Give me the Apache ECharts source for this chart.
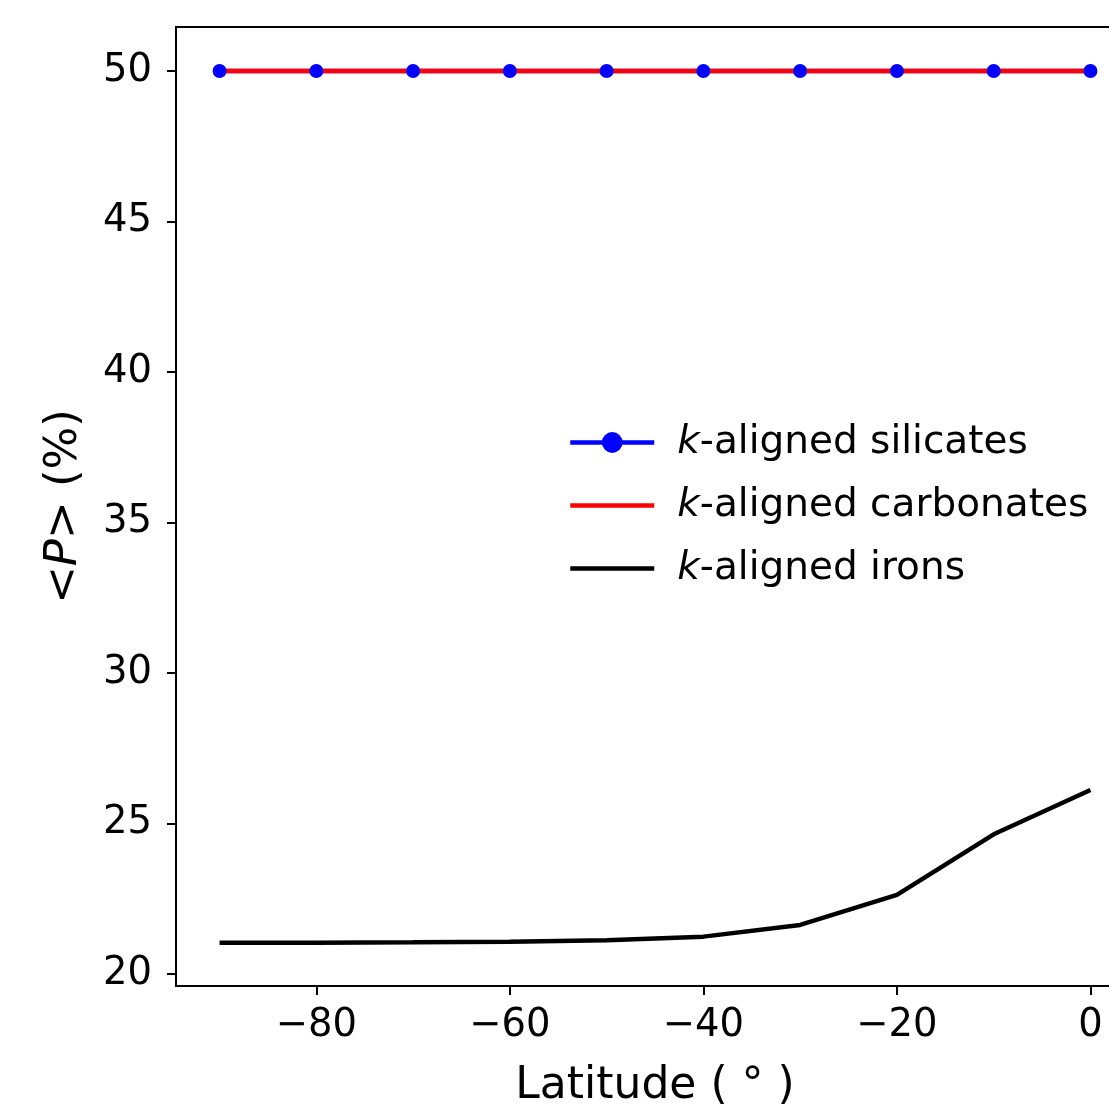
<!DOCTYPE html>
<html>
<head>
<meta charset="utf-8">
<script src="https://cdn.jsdelivr.net/npm/echarts@6/dist/echarts.min.js"></script>
<style>
  html, body { margin: 0; padding: 0; background: #fff; }
  #chart { width: 1109px; height: 1106px; }
</style>
</head>
<body>
<div id="chart"></div>
<script>
// latitude samples (degrees)
var latitude = [-90, -80, -70, -60, -50, -40, -30, -20, -10, 0];
// mean polarisation <P> (%)
var silicates = [50, 50, 50, 50, 50, 50, 50, 50, 50, 50];
var carbonates = [50, 50, 50, 50, 50, 50, 50, 50, 50, 50];
var irons = [21.04, 21.04, 21.05, 21.07, 21.12, 21.24, 21.63, 22.63, 24.64, 26.11];
var xTicks = [-80, -60, -40, -20, 0];
var yTicks = [20, 25, 30, 35, 40, 45, 50];

function pairs(xs, ys) {
    return xs.map(function (x, i) { return [x, ys[i]]; });
}

var font = 'DejaVu Sans';
var hidden = { color: 'rgba(0,0,0,0)', borderColor: 'rgba(0,0,0,0)', borderWidth: 0 };
var chart = echarts.init(document.getElementById('chart'));

chart.setOption({
    animation: false,
    backgroundColor: '#fff',
    textStyle: { fontFamily: font },
    grid: {
        left: 176, top: 27, width: 958, height: 959,
        outerBoundsMode: 'none', containLabel: false,
        show: true, borderColor: '#000', borderWidth: 2, backgroundColor: 'transparent'
    },
    legend: {
        left: 563, top: 418,
        orient: 'vertical',
        itemWidth: 84, itemHeight: 26, itemGap: 24,
        lineStyle: { width: 4.5 },
        textStyle: {
            fontFamily: font, fontSize: 39, color: '#000', padding: [0, 0, 0, 18],
            rich: { i: { fontFamily: font, fontSize: 39, fontStyle: 'italic', color: '#000' } }
        },
        formatter: function (name) {
            return '{i|k}-aligned ' + name;
        },
        data: [
            { name: 'silicates' },
            { name: 'carbonates', itemStyle: hidden },
            { name: 'irons', itemStyle: hidden }
        ]
    },
    xAxis: {
        type: 'value',
        min: -94.5, max: 4.5,
        name: 'Latitude ( ° )',
        nameLocation: 'middle', nameGap: 79,
        nameTextStyle: { fontFamily: font, fontSize: 44, color: '#000' },
        splitLine: { show: false },
        axisLine: { onZero: false, lineStyle: { color: '#000', width: 2 } },
        axisTick: { show: true, length: 9, lineStyle: { color: '#000', width: 2 }, customValues: xTicks },
        axisLabel: {
            customValues: xTicks, margin: 20,
            fontFamily: font, fontSize: 38.5, color: '#000',
            formatter: function (v) { return String(v).replace('-', '\u2212'); }
        }
    },
    yAxis: {
        type: 'value',
        min: 19.6, max: 51.46,
        name: '<{i|P}> (%)',
        nameLocation: 'middle', nameRotate: 90, nameGap: 89,
        nameTextStyle: {
            fontFamily: font, fontSize: 45, color: '#000',
            rich: { i: { fontFamily: font, fontSize: 45, fontStyle: 'italic', color: '#000' } }
        },
        splitLine: { show: false },
        axisLine: { onZero: false, lineStyle: { color: '#000', width: 2 } },
        axisTick: { show: true, length: 9, lineStyle: { color: '#000', width: 2 }, customValues: yTicks },
        axisLabel: {
            customValues: yTicks, margin: 24,
            fontFamily: font, fontSize: 38.5, color: '#000'
        }
    },
    series: [
        {
            name: 'silicates', type: 'line',
            data: pairs(latitude, silicates),
            symbol: 'circle', symbolSize: 14, showSymbol: true,
            lineStyle: { color: '#0000ff', width: 4.5 },
            itemStyle: { color: '#0000ff' }
        },
        {
            name: 'carbonates', type: 'line',
            data: pairs(latitude, carbonates),
            symbol: 'none',
            lineStyle: { color: '#ff0000', width: 4.5 },
            itemStyle: { color: '#ff0000' }
        },
        {
            name: 'irons', type: 'line',
            data: pairs(latitude, irons),
            symbol: 'none',
            lineStyle: { color: '#000000', width: 4.5 },
            itemStyle: { color: '#000000' }
        }
    ]
});
</script>
</body>
</html>
